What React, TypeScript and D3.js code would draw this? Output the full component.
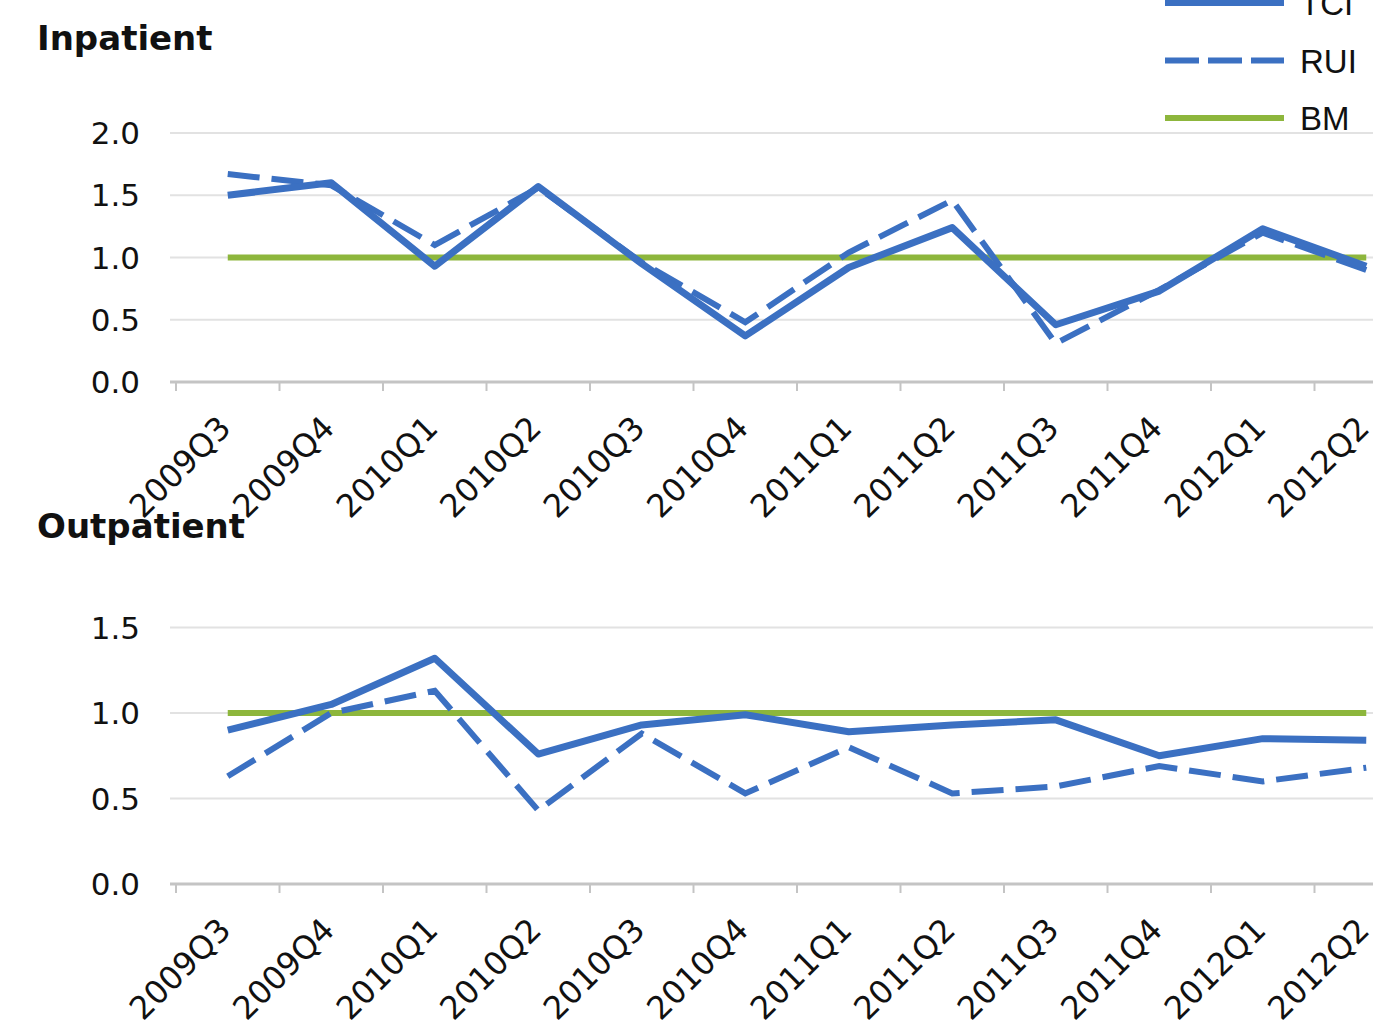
import React, { useEffect, useRef } from "react";
import * as d3 from "d3";

const categories = [
  "2009Q3", "2009Q4", "2010Q1", "2010Q2", "2010Q3", "2010Q4",
  "2011Q1", "2011Q2", "2011Q3", "2011Q4", "2012Q1", "2012Q2",
];

const inpatientTCI = [1.5, 1.6, 0.93, 1.57, 0.95, 0.37, 0.92, 1.24, 0.46, 0.73, 1.23, 0.93];
const inpatientRUI = [1.67, 1.58, 1.1, 1.56, 0.96, 0.48, 1.04, 1.46, 0.31, 0.74, 1.2, 0.9];
const outpatientTCI = [0.9, 1.05, 1.32, 0.76, 0.93, 0.99, 0.89, 0.93, 0.96, 0.75, 0.85, 0.84];
const outpatientRUI = [0.63, 1.0, 1.13, 0.43, 0.88, 0.53, 0.8, 0.53, 0.57, 0.69, 0.6, 0.68];
const benchmark = [1, 1, 1, 1, 1, 1, 1, 1, 1, 1, 1, 1];

const inpatientTicks = [0, 0.5, 1, 1.5, 2];
const outpatientTicks = [0, 0.5, 1, 1.5];

const legendItems = [
  { name: "TCI", dash: null, color: "#3b70c2" },
  { name: "RUI", dash: "34,9", color: "#3b70c2" },
  { name: "BM", dash: null, color: "#8db63c" },
];

const BLUE = "#3b70c2";
const GREEN = "#8db63c";
const FONT = "'DejaVu Sans', sans-serif";

function drawPanel(svg, opts) {
  const { title, titleY, top, bottom, max, ticks, tci, rui } = opts;
  const left = 176;
  const right = left + 12 * 103.5;

  const x = d3.scalePoint().domain(categories).range([left, right]).padding(0.5);
  const band = d3.scaleBand().domain(categories).range([left, right]);
  const y = d3.scaleLinear().domain([0, max]).range([bottom, top]);

  const g = svg.append("g");

  g.append("text")
    .attr("x", 37)
    .attr("y", titleY)
    .style("font-family", FONT)
    .style("font-weight", "bold")
    .style("font-size", "34px")
    .attr("fill", "#111")
    .text(title);

  // gridlines
  g.selectAll("line.grid")
    .data(ticks.filter(t => t > 0))
    .enter().append("line")
    .attr("class", "grid")
    .attr("x1", left - 6).attr("x2", right)
    .attr("y1", d => y(d)).attr("y2", d => y(d))
    .attr("stroke", "#e2e2e2")
    .attr("stroke-width", 2);

  // axis line + ticks
  g.append("line")
    .attr("x1", left - 6).attr("x2", right)
    .attr("y1", y(0)).attr("y2", y(0))
    .attr("stroke", "#c4c4c4")
    .attr("stroke-width", 3);

  g.selectAll("line.tick")
    .data(categories)
    .enter().append("line")
    .attr("class", "tick")
    .attr("x1", d => band(d)).attr("x2", d => band(d))
    .attr("y1", y(0)).attr("y2", y(0) + 9)
    .attr("stroke", "#c4c4c4")
    .attr("stroke-width", 2);

  // y tick labels
  g.selectAll("text.ylab")
    .data(ticks)
    .enter().append("text")
    .attr("class", "ylab")
    .attr("x", 140)
    .attr("y", d => y(d))
    .attr("dy", "0.36em")
    .attr("text-anchor", "end")
    .style("font-family", FONT)
    .style("font-size", "31px")
    .attr("fill", "#111")
    .text(d => d3.format(".1f")(d));

  // x labels
  g.selectAll("text.xlab")
    .data(categories)
    .enter().append("text")
    .attr("class", "xlab")
    .attr("transform", d => `translate(${x(d) - 3},${y(0) + 40}) rotate(-45)`)
    .attr("text-anchor", "end")
    .attr("dy", "0.35em")
    .style("font-family", FONT)
    .style("font-size", "32px")
    .attr("fill", "#111")
    .text(d => d);

  const line = d3.line()
    .x((d, i) => x(categories[i]))
    .y(d => y(d));

  g.append("path")
    .datum(benchmark)
    .attr("d", line)
    .attr("fill", "none")
    .attr("stroke", GREEN)
    .attr("stroke-width", 6);

  g.append("path")
    .datum(rui)
    .attr("d", line)
    .attr("fill", "none")
    .attr("stroke", BLUE)
    .attr("stroke-width", 6)
    .attr("stroke-dasharray", "32,12");

  g.append("path")
    .datum(tci)
    .attr("d", line)
    .attr("fill", "none")
    .attr("stroke", BLUE)
    .attr("stroke-width", 7)
    .attr("stroke-linejoin", "round");
}

function drawLegend(svg) {
  const legendY = d3.scalePoint().domain(legendItems.map(d => d.name)).range([3, 118]);
  const g = svg.append("g");
  const items = g.selectAll("g")
    .data(legendItems)
    .enter().append("g")
    .attr("transform", d => `translate(0,${legendY(d.name)})`);

  items.append("line")
    .attr("x1", 1165).attr("x2", 1284)
    .attr("stroke", d => d.color)
    .attr("stroke-width", 6)
    .attr("stroke-dasharray", d => d.dash);

  items.append("text")
    .attr("x", 1300)
    .attr("y", 12)
    .style("font-family", "'Liberation Sans Narrow', 'Liberation Sans', sans-serif")
    .style("font-size", "33px")
    .attr("fill", "#111")
    .text(d => d.name);
}

function draw(node) {
  const svg = d3.select(node);
  svg.selectAll("*").remove();

  svg.append("rect").attr("width", 1373).attr("height", 1030).attr("fill", "#fff");

  drawPanel(svg, {
    title: "Inpatient", titleY: 50, top: 133, bottom: 382, max: 2,
    ticks: inpatientTicks, tci: inpatientTCI, rui: inpatientRUI,
  });
  drawPanel(svg, {
    title: "Outpatient", titleY: 538, top: 627.5, bottom: 884, max: 1.5,
    ticks: outpatientTicks, tci: outpatientTCI, rui: outpatientRUI,
  });
  drawLegend(svg);
}

export default function App() {
  const ref = useRef(null);
  useEffect(() => {
    draw(ref.current);
  }, []);
  return (
    <svg
      ref={ref}
      width={1373}
      height={1030}
      style={{ position: "absolute", left: 0, top: 0, overflow: "hidden" }}
    />
  );
}
